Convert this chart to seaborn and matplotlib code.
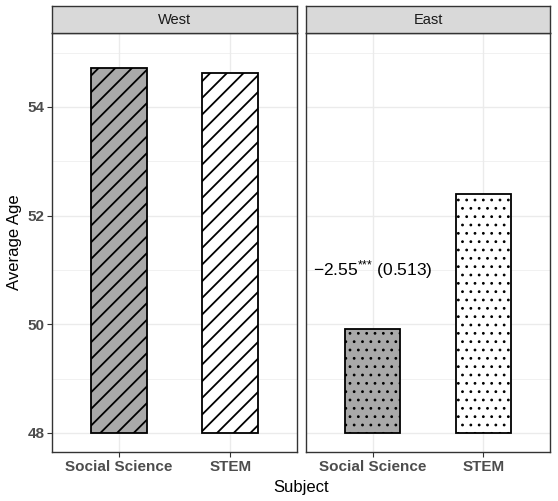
import pandas as pd
import seaborn as sns
import matplotlib.pyplot as plt

# 数据
regions = ['West', 'East']
subjects = ['Social Science', 'STEM']
avg_age_west = [54.72, 54.62]
avg_age_east = [49.91, 52.40]
hatches = {'West': '//', 'East': '..'}
hatch_lw = {'West': 1.3, 'East': 0.8}
fill_colors = {'Social Science': '#A9A9A9', 'STEM': 'white'}
note_text = '\u22122.55$^{{*}{*}{*}}$ (0.513)'
note_pos = (0, 51.0)
base = 48

df = pd.DataFrame({
    'Region': ['West'] * 2 + ['East'] * 2,
    'Subject': subjects * 2,
    'Age': avg_age_west + avg_age_east,
})

sns.set_theme(style='white')
plt.rcParams['font.family'] = ['Liberation Sans', 'DejaVu Sans']
plt.rcParams['mathtext.fontset'] = 'custom'
plt.rcParams['mathtext.rm'] = 'Liberation Sans'
plt.rcParams['mathtext.it'] = 'Liberation Sans:italic'

fig = plt.figure(figsize=(5.58, 5.01), dpi=100)
W, H = 558, 501
panels = [(52, 297), (306, 550)]
top, bottom = 33, 452
strip_top = 6

for i, region in enumerate(regions):
    plt.rcParams['hatch.linewidth'] = hatch_lw[region]
    x0, x1 = panels[i]
    ax = fig.add_axes([x0 / W, (H - bottom) / H, (x1 - x0) / W, (bottom - top) / H])
    sub = df[df['Region'] == region].copy()
    sub['Height'] = sub['Age'] - base
    sns.barplot(data=sub, x='Subject', y='Height', hue='Subject', palette=fill_colors,
                order=subjects, hue_order=subjects, legend=False, width=0.5,
                bottom=base, edgecolor='black', linewidth=1.3, ax=ax, zorder=3)
    for p in ax.patches:
        p.set_hatch(hatches[region])
    ax.set_xlim(-0.6, 1.6)
    ax.set_ylim(47.65, 55.36)
    ax.set_yticks([48, 50, 52, 54])
    ax.set_yticks([49, 51, 53, 55], minor=True)
    ax.grid(True, which='major', color='#EBEBEB', linewidth=1.0, zorder=0)
    ax.grid(True, which='minor', axis='y', color='#EBEBEB', linewidth=0.5, zorder=0)
    ax.set_axisbelow(True)
    for s in ax.spines.values():
        s.set_color('#333333')
        s.set_linewidth(1.0)
    ax.tick_params(axis='both', which='major', length=3.5, width=0.8, color='#333333',
                   labelsize=11, labelcolor='#4D4D4D', pad=2, bottom=True, left=(i == 0))
    ax.tick_params(axis='both', which='minor', length=0)
    for lab in ax.get_xticklabels() + ax.get_yticklabels():
        lab.set_fontweight('bold')
    ax.set_xlabel('')
    ax.set_ylabel('')
    if i == 0:
        ax.set_ylabel('Average Age', fontsize=12, color='black', labelpad=4)
    else:
        ax.set_yticklabels([])
        ax.text(note_pos[0], note_pos[1], note_text, ha='center', va='center',
                fontsize=12.5, color='black', zorder=5)

    # 分面标签
    sax = fig.add_axes([x0 / W, (H - top) / H, (x1 - x0) / W, (top - strip_top) / H])
    sax.set_facecolor('#D9D9D9')
    sax.set_xticks([])
    sax.set_yticks([])
    for s in sax.spines.values():
        s.set_color('#333333')
        s.set_linewidth(1.0)
    sax.text(0.5, 0.5, region, ha='center', va='center', fontsize=10.5, color='#1A1A1A',
             transform=sax.transAxes)

fig.text((52 + 550) / 2 / W, 6 / H, 'Subject', ha='center', va='bottom', fontsize=12, color='black')

fig.savefig('out.png', dpi=100)
